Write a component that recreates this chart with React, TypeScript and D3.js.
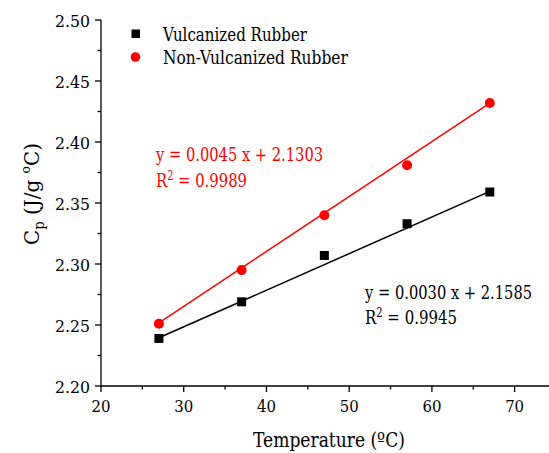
import React, { useLayoutEffect, useRef, useState } from "react";
import * as d3 from "d3";

const temperatures = [27, 37, 47, 57, 67];
const vulcanized = [2.239, 2.269, 2.307, 2.333, 2.359];
const nonVulcanized = [2.251, 2.295, 2.34, 2.381, 2.432];
const xTicks = [20, 30, 40, 50, 60, 70];
const yTicks = [2.2, 2.25, 2.3, 2.35, 2.4, 2.45, 2.5];
const vulcFit = { slope: 0.003, intercept: 2.1585, r2: "0.9945" };
const nonVulcFit = { slope: 0.0045, intercept: 2.1303, r2: "0.9989" };
const seriesNames = ["Vulcanized Rubber", "Non-Vulcanized Rubber"];

const W = 549;
const H = 453;
const FONT = "'DejaVu Serif', serif";
const RED = "#ff0000";

// Text squeezed horizontally so its rendered width equals `width`.
function FitText({ x, y, width, anchor = "start", rotate = 0, children, ...rest }: any) {
  const ref = useRef<SVGTextElement>(null);
  const [k, setK] = useState(1);
  useLayoutEffect(() => {
    if (ref.current) {
      const w = ref.current.getBBox().width;
      if (w > 0) setK(width / w);
    }
  }, [width]);
  const anchorShift = anchor === "middle" ? -width / 2 : anchor === "end" ? -width : 0;
  return (
    <g transform={`translate(${x},${y}) rotate(${rotate}) translate(${anchorShift},0) scale(${k},1)`}>
      <text ref={ref} x={0} y={0} {...rest}>{children}</text>
    </g>
  );
}

function RSquared({ x, y, value, width, fill }: any) {
  return (
    <FitText x={x} y={y} width={width} fontSize={18} fill={fill}>
      R<tspan fontSize={12} dy={-7.5}>2</tspan><tspan dy={7.5}> = {value}</tspan>
    </FitText>
  );
}

export default function App() {
  const x = d3.scaleLinear().domain([20, 75]).range([101, 556]);
  const y = d3.scaleLinear().domain([2.2, 2.5]).range([386, 20]);

  const fitLine = (f: { slope: number; intercept: number }) =>
    d3.line<number>()
      .x((t) => x(t))
      .y((t) => y(f.slope * t + f.intercept))([27, 67]) as string;

  const xMinor = d3.range(25, 75, 10);
  const yMinor = d3.range(2.225, 2.5, 0.05);
  const eq = (f: { slope: number; intercept: number }) =>
    `y = ${f.slope.toFixed(4)} x + ${f.intercept.toFixed(4)}`;

  return (
    <svg width={W} height={H} style={{ position: "absolute", left: 0, top: 0, background: "#fff", fontFamily: FONT }}>
      {/* axes */}
      <line x1={x(20)} x2={W} y1={386} y2={386} stroke="#000" strokeWidth={1.3} />
      <line x1={101} x2={101} y1={20} y2={386} stroke="#000" strokeWidth={1.3} />
      {xTicks.map((t) => (
        <g key={"xt" + t}>
          <line x1={x(t)} x2={x(t)} y1={386} y2={392} stroke="#000" strokeWidth={1.3} />
          <FitText x={x(t)} y={412} width={19} anchor="middle" fontSize={17.5}>{t}</FitText>
        </g>
      ))}
      {xMinor.map((t) => (
        <line key={"xm" + t} x1={x(t)} x2={x(t)} y1={386} y2={389.5} stroke="#000" strokeWidth={1.3} />
      ))}
      {yTicks.map((t) => (
        <g key={"yt" + t}>
          <line x1={95} x2={101} y1={y(t)} y2={y(t)} stroke="#000" strokeWidth={1.3} />
          <FitText x={90} y={y(t) + 6.5} width={35} anchor="end" fontSize={17.5}>{t.toFixed(2)}</FitText>
        </g>
      ))}
      {yMinor.map((t) => (
        <line key={"ym" + t} x1={97.5} x2={101} y1={y(t)} y2={y(t)} stroke="#000" strokeWidth={1.3} />
      ))}

      {/* axis titles */}
      <FitText x={329} y={447} width={152} anchor="middle" fontSize={21}>Temperature (ºC)</FitText>
      <FitText x={39} y={194} width={102} anchor="middle" rotate={-90} fontSize={21}>
        C<tspan fontSize={14} dy={5}>p</tspan><tspan dy={-5}> (J/g </tspan><tspan fontSize={13} dy={-9}>o</tspan><tspan dy={9}>C)</tspan>
      </FitText>

      {/* fit lines */}
      <path d={fitLine(vulcFit)} stroke="#000" strokeWidth={1.5} fill="none" />
      <path d={fitLine(nonVulcFit)} stroke={RED} strokeWidth={1.5} fill="none" />

      {/* markers */}
      {temperatures.map((t, i) => (
        <rect key={"v" + t} x={x(t) - 4.5} y={y(vulcanized[i]) - 4.5} width={9} height={9} fill="#000" />
      ))}
      {temperatures.map((t, i) => (
        <circle key={"n" + t} cx={x(t)} cy={y(nonVulcanized[i])} r={5} fill={RED} />
      ))}

      {/* legend */}
      <rect x={131.5} y={29.5} width={8.5} height={8.5} fill="#000" />
      <FitText x={163} y={40.5} width={145} fontSize={18.5}>{seriesNames[0]}</FitText>
      <circle cx={135.5} cy={57} r={4.8} fill={RED} />
      <FitText x={163} y={63.5} width={185} fontSize={18.5}>{seriesNames[1]}</FitText>

      {/* regression labels */}
      <FitText x={156} y={161} width={168} fontSize={18.5} fill={RED}>{eq(nonVulcFit)}</FitText>
      <RSquared x={156} y={187} width={91} value={nonVulcFit.r2} fill={RED} />
      <FitText x={365} y={299} width={168} fontSize={18.5}>{eq(vulcFit)}</FitText>
      <RSquared x={365} y={324} width={92} value={vulcFit.r2} fill="#000" />
    </svg>
  );
}
